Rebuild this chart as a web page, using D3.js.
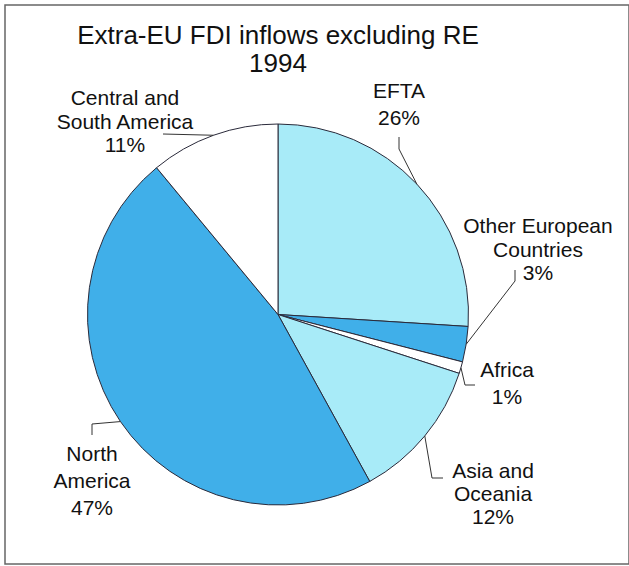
<!DOCTYPE html>
<html>
<head>
<meta charset="utf-8">
<script src="https://d3js.org/d3.v7.min.js"></script>
<style>
  body { margin: 0; background: #fff; }
  text { font-family: "Liberation Sans", Arial, sans-serif; fill: #111; }
</style>
</head>
<body>
<div id="chart"></div>
<script>
// data
var regions = ["EFTA", "Other European Countries", "Africa", "Asia and Oceania", "North America", "Central and South America"];
var shares = [26, 3, 1, 12, 47, 11];
var sliceColors = ["#a8ebf8", "#40afe9", "#ffffff", "#a8ebf8", "#40afe9", "#ffffff"];
var titleLines = ["Extra-EU FDI inflows excluding RE", "1994"];

// label layout: text lines, anchor position, leader elbow / end
var labelLayout = [
  { lines: ["EFTA", "26%"], x: 399, y: 98, dy: 27, leader: [[399, 149], [399, 137]] },
  { lines: ["Other European", "Countries", "3%"], x: 538, y: 233, dy: 23.5, leader: [[515, 281], [515, 270]] },
  { lines: ["Africa", "1%"], x: 507, y: 377, dy: 27, leader: [[465, 385], [475, 385]] },
  { lines: ["Asia and", "Oceania", "12%"], x: 493, y: 478, dy: 23, leader: [[432, 478], [443, 478]] },
  { lines: ["North", "America", "47%"], x: 92, y: 461, dy: 27, leader: [[92, 424], [92, 435]] },
  { lines: ["Central and", "South America", "11%"], x: 125, y: 105, dy: 23.5, leader: [[163, 134]] }
];

var width = 629, height = 566;
var cx = 278, cy = 314.5, radius = 190.5;

var svg = d3.select("#chart").append("svg")
  .attr("width", width)
  .attr("height", height);

// frame
svg.append("rect")
  .attr("x", 5).attr("y", 5)
  .attr("width", 624).attr("height", 559)
  .attr("fill", "none")
  .attr("stroke", "#666")
  .attr("stroke-width", 1.5);

// title
svg.selectAll(".title")
  .data(titleLines)
  .enter().append("text")
  .attr("class", "title")
  .attr("x", 278)
  .attr("y", function (d, i) { return 44 + i * 28; })
  .attr("text-anchor", "middle")
  .style("font-size", "26px")
  .text(function (d) { return d; });

var pie = d3.pie().sort(null).value(function (d) { return d; });
var arcs = pie(shares);

var arc = d3.arc().innerRadius(0).outerRadius(radius);

var g = svg.append("g").attr("transform", "translate(" + cx + "," + cy + ")");

g.selectAll("path")
  .data(arcs)
  .enter().append("path")
  .attr("d", arc)
  .attr("fill", function (d, i) { return sliceColors[i]; })
  .attr("stroke", "#2a2a3a")
  .attr("stroke-width", 1)
  .attr("stroke-linejoin", "round");

// leader lines from slice midpoints on the rim
svg.selectAll(".leader")
  .data(arcs)
  .enter().append("polyline")
  .attr("class", "leader")
  .attr("fill", "none")
  .attr("stroke", "#333")
  .attr("stroke-width", 1)
  .attr("points", function (d, i) {
    var a = (d.startAngle + d.endAngle) / 2;
    var p = [cx + radius * Math.sin(a), cy - radius * Math.cos(a)];
    var pts = [p].concat(labelLayout[i].leader);
    return pts.map(function (q) { return q.join(","); }).join(" ");
  });

// labels
var labels = svg.selectAll(".label")
  .data(labelLayout)
  .enter().append("text")
  .attr("class", "label")
  .attr("text-anchor", "middle")
  .style("font-size", "21px");

labels.selectAll("tspan")
  .data(function (d) { return d.lines.map(function (l, j) { return { t: l, x: d.x, y: d.y + j * d.dy }; }); })
  .enter().append("tspan")
  .attr("x", function (d) { return d.x; })
  .attr("y", function (d) { return d.y; })
  .text(function (d) { return d.t; });
</script>
</body>
</html>
